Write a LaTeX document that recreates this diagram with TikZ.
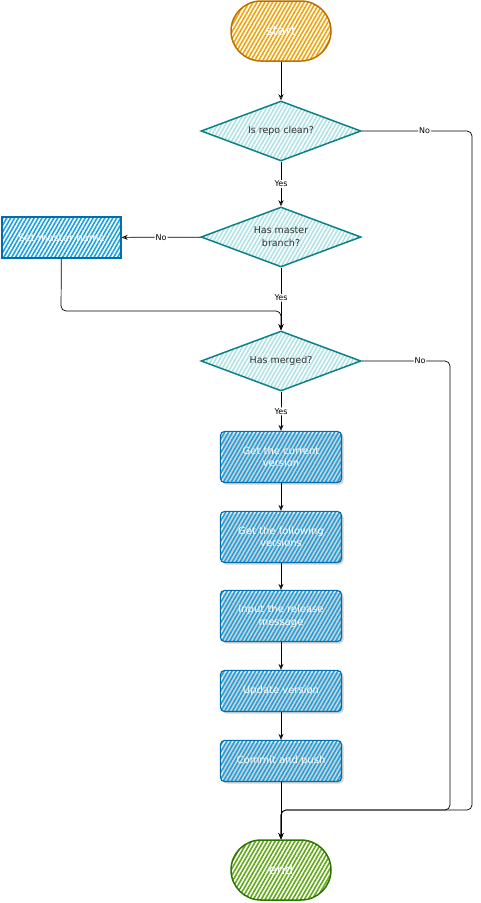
\documentclass[tikz,border=0pt]{standalone}
\usepackage{fontspec}
\setmainfont{DejaVu Sans}
\usepackage{xcolor}
\usetikzlibrary{shapes,calc,arrows.meta,positioning,patterns.meta,shadows}
\definecolor{morange}{HTML}{F0A30A}
\definecolor{morangeD}{HTML}{BD7000}
\definecolor{mteal}{HTML}{B0E3E6}
\definecolor{mtealD}{HTML}{0E8088}
\definecolor{mblue}{HTML}{1BA1E2}
\definecolor{mblueD}{HTML}{006EAF}
\definecolor{mgreen}{HTML}{60A917}
\definecolor{mgreenD}{HTML}{2D7600}
\tikzstyle{l2}=[line width=0.7]
\tikzstyle{flow}=[l2, rounded corners=5, -{Stealth[open, length=6pt, width=5pt]}]
\tikzstyle{hatch}=[preaction={fill=white}, pattern={Lines[angle=60, distance=3.4pt, line width=1.6pt]}]
\tikzstyle{term}=[rectangle, rounded corners=30, minimum width=100, minimum height=60, line width=1.5, hatch, text=white, font=\fontsize{13}{15}\selectfont]
\tikzstyle{startn}=[term, draw=morangeD, pattern color=morange]
\tikzstyle{endn}=[term, draw=mgreenD, pattern color=mgreen]
\tikzstyle{decide}=[diamond, aspect=2.67, inner sep=0pt, minimum width=160, minimum height=60, line width=1.5, draw=mtealD, hatch, pattern color=mteal, text=black!80, align=center, font=\fontsize{9.5}{13}\selectfont]
\tikzstyle{proc}=[rectangle, rounded corners=4, minimum width=121, minimum height=51, line width=1.2, draw=mblueD, hatch, pattern color=mblue, text=white, align=center, font=\fontsize{10}{12.5}\selectfont, drop shadow={opacity=0.35, shadow xshift=2pt, shadow yshift=-2pt}]
\tikzstyle{procs}=[proc, minimum height=41]
\tikzstyle{side}=[rectangle, minimum width=119, minimum height=41, line width=1.2, draw=mblueD, hatch, pattern color=mblue, text=white, font=\fontsize{10}{12.5}\selectfont]
\tikzstyle{lbl}=[fill=white, inner sep=1pt, font=\fontsize{8}{9}\selectfont]

\begin{document}
\begin{tikzpicture}[x=1pt, y=-1pt]
    \useasboundingbox (0,0) rectangle (481,903);

    \node (st) [startn] at (281,31) {start};
    \node (d1) [decide] at (281,131) {Is repo clean?};
    \node (d2) [decide] at (281,237) {Has master\\branch?};
    \node (m) [side] at (61.5,237.5) {Set master name};
    \node (d3) [decide] at (281,361) {Has merged?};

    \node (p1) [proc] at (281,457) {Get the current\\version};
    \node (p2) [proc] at (281,537) {Get the following\\versions};
    \node (p3) [proc] at (281,616) {Input the release\\message};
    \node (p4) [procs] at (281,691) {Update version};
    \node (p5) [procs] at (281,761) {Commit and push};
    \node (en) [endn] at (281,870) {end};

    \draw[flow] (st) -- (d1);
    \draw[flow] (d1) -- node[lbl] {Yes} (d2);
    \draw[flow] (d2) -- node[lbl, pos=0.48] {Yes} (d3);
    \draw[flow] (d2) -- node[lbl] {No} (m);
    \draw[flow] (m) -- (61,311) -- (281,311) -- (d3);
    \draw[flow] (d3) -- node[lbl] {Yes} (p1);
    \draw[flow] (p1) -- (p2);
    \draw[flow] (p2) -- (p3);
    \draw[flow] (p3) -- (p4);
    \draw[flow] (p4) -- (p5);
    \draw[flow] (p5) -- (en);

    % the two "No" exits run down the right side
    \draw[flow] (d1.east) -- node[lbl, pos=0.57] {No} (472,131) -- (472,810) -- (281,810) -- (en);
    \draw[flow] (d3.east) -- node[lbl, pos=0.66] {No} (450,361) -- (450,810) -- (281,810) -- (en);

\end{tikzpicture}
\end{document}
